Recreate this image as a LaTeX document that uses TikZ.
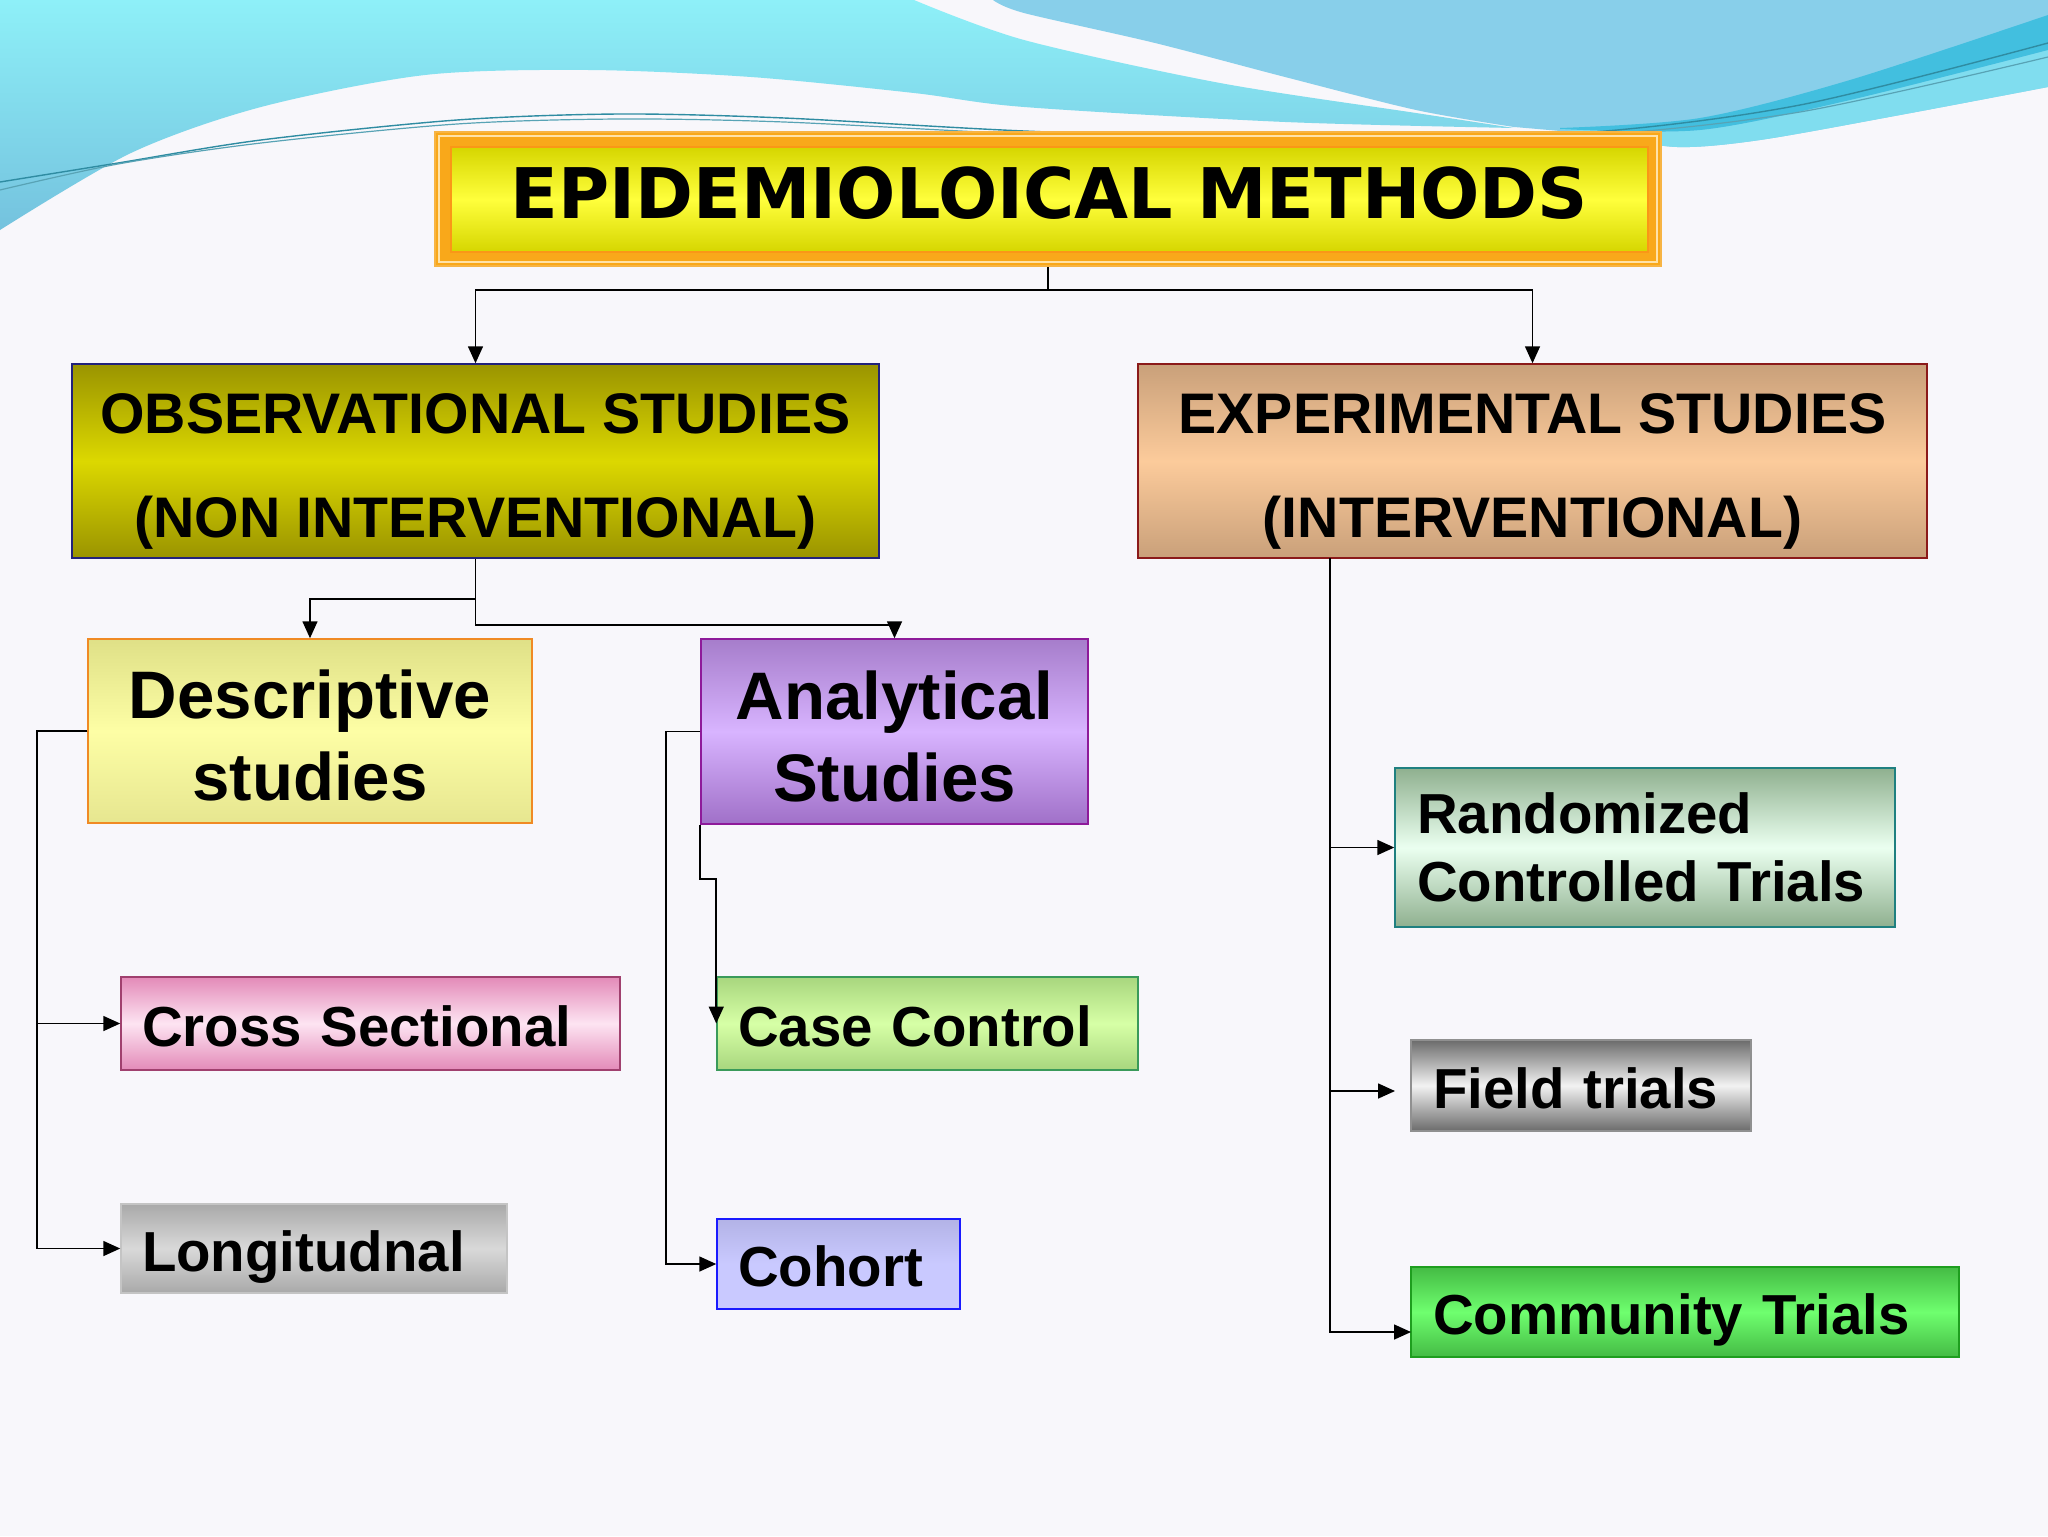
\documentclass[tikz,border=0pt]{standalone}
\usepackage{fontspec}
\setmainfont{Liberation Sans}
\newfontfamily\titlefont{DejaVu Sans}
\usetikzlibrary{arrows.meta,calc}
\definecolor{bgc}{HTML}{F8F7FB}
\definecolor{cyanA}{HTML}{8EF0F8}
\definecolor{cyanB}{HTML}{74C2DE}
\definecolor{blueR}{HTML}{88CFEA}
\definecolor{tealD}{HTML}{42BFDF}
\definecolor{cyanL}{HTML}{80DDEF}
\definecolor{streak}{HTML}{2F8CA2}
\definecolor{ttlO}{HTML}{F9A81A}
\definecolor{ttlB}{HTML}{F7B444}
\definecolor{ttlL}{HTML}{FFE2A8}
\definecolor{yelD}{HTML}{D6D600}
\definecolor{yelL}{HTML}{FFFF3C}
\definecolor{obsB}{HTML}{22227A}\definecolor{obsD}{HTML}{9A9400}\definecolor{obsL}{HTML}{DCD800}
\definecolor{expB}{HTML}{8B1A1A}\definecolor{expD}{HTML}{C9A07A}\definecolor{expL}{HTML}{FCCB9B}
\definecolor{desB}{HTML}{F08A24}\definecolor{desT}{HTML}{DFE087}\definecolor{desL}{HTML}{FDFEA5}\definecolor{desD}{HTML}{E6E690}
\definecolor{anaB}{HTML}{8E1A9A}\definecolor{anaT}{HTML}{A67DCB}\definecolor{anaL}{HTML}{D8B4FF}\definecolor{anaD}{HTML}{A070C8}
\definecolor{crsB}{HTML}{A0406E}\definecolor{crsD}{HTML}{E38AB8}\definecolor{crsL}{HTML}{FDE4F2}
\definecolor{lonB}{HTML}{C4C4C4}\definecolor{lonD}{HTML}{A9A9A9}\definecolor{lonL}{HTML}{D9D9D9}
\definecolor{ccB}{HTML}{3A9A5A}\definecolor{ccD}{HTML}{A8D67E}\definecolor{ccL}{HTML}{D6FFA6}
\definecolor{cohB}{HTML}{1A1AFF}\definecolor{cohT}{HTML}{B3B3E6}\definecolor{cohD}{HTML}{C9C9FF}
\definecolor{rctB}{HTML}{1F8080}\definecolor{rctD}{HTML}{8FB08F}\definecolor{rctL}{HTML}{EBFFF0}
\definecolor{fldB}{HTML}{909090}\definecolor{fldD}{HTML}{6B6B6B}\definecolor{fldL}{HTML}{F2F2F2}
\definecolor{comB}{HTML}{1E9E1E}\definecolor{comD}{HTML}{44BB44}\definecolor{comL}{HTML}{6FFF6F}
\begin{document}
\begin{tikzpicture}[x=0.5pt,y=-0.5pt,
  conn/.style={draw=black, line width=0.8pt},
  arr/.style={conn, -{Triangle[length=8.5pt,width=7.5pt]}},
  box/.style={draw, line width=0.75pt, inner sep=0pt, text=black, font=\bfseries\fontsize{28.2}{34}\selectfont},
  bigtxt/.style={align=center, font=\bfseries\fontsize{28.6}{52}\selectfont},
  midtxt/.style={align=center, font=\bfseries\fontsize{33.6}{41}\selectfont},
  lefttxt/.style={align=left, inner xsep=10.5pt, text height=22.5pt, text depth=0pt},
  grad/.style n args={3}{top color=#1, bottom color=#3, middle color=#2}]
\useasboundingbox (0,0) rectangle (2048,1536);
\fill[bgc] (0,0) rectangle (2048,1536);
% background waves
\shade[top color=cyanA, bottom color=cyanB] (0,0) -- (914,0) -- plot[smooth] coordinates {(914,0) (1024,40) (1220,83) (1416,113) (1514,128)} -- plot[smooth] coordinates {(1514,128) (1285,122) (1024,107) (914,93) (751,77) (588,70) (425,75) (261,107) (131,153) (0,230)} -- cycle;
\fill[blueR] (993,0) -- (2048,0) -- (2048,87) -- plot[smooth] coordinates {(2048,87) (1900,115) (1760,140) (1677,147) (1600,135) (1514,127)} -- plot[smooth] coordinates {(1514,127) (1416,110) (1285,77) (1155,43) (1024,13) (993,0)} -- cycle;
\fill[cyanL] plot[smooth] coordinates {(1560,129) (1700,130) (1850,100) (2048,50)} -- (2048,87) -- plot[smooth] coordinates {(2048,87) (1900,115) (1760,140) (1677,147) (1600,135) (1560,129)} -- cycle;
\fill[tealD] plot[smooth] coordinates {(1560,128) (1700,118) (1850,80) (2048,15)} -- (2048,50) -- plot[smooth] coordinates {(2048,50) (1850,100) (1700,130) (1560,129)} -- cycle;
\draw[streak, line width=0.7pt] plot[smooth] coordinates {(0,182) (118,163) (261,140) (457,120) (620,114) (784,118) (1024,131) (1300,140) (1580,133) (1800,105) (2048,43)};
\draw[streak!80!white, line width=0.6pt] plot[smooth] coordinates {(0,190) (118,164) (261,143) (457,124) (620,119) (784,122) (1024,134) (1300,143) (1580,136) (1800,112) (2048,57)};
% title
\node[draw=ttlB, line width=1.2pt, fill=ttlO, minimum width=613pt, minimum height=67pt, inner sep=0pt] (title) at (1048,199) {};
\draw[ttlL, line width=0.8pt] ($(title.north west)+(5,5)$) rectangle ($(title.south east)+(-5,-5)$);
\node[draw=ttlO!90!red, line width=0.8pt, grad={yelD}{yelL}{yelD}, minimum width=598.5pt, minimum height=52.5pt, inner sep=0pt, font=\titlefont\bfseries\fontsize{34.9}{40}\selectfont, text height=25.4pt, text depth=6.5pt] (titletext) at (1049.5,199.5) {EPIDEMIOLOICAL METHODS};
% level 1
\node[box, draw=obsB, grad={obsD}{obsL}{obsD}, minimum width=403.5pt, minimum height=97pt, bigtxt] (obs) at (475.5,461) {\rule{0pt}{30pt}OBSERVATIONAL STUDIES\\(NON INTERVENTIONAL)};
\node[box, draw=expB, grad={expD}{expL}{expD}, minimum width=394.5pt, minimum height=97pt, bigtxt] (exp) at (1532.5,461) {\rule{0pt}{30pt}EXPERIMENTAL STUDIES\\(INTERVENTIONAL)};
% level 2
\node[box, draw=desB, grad={desT}{desL}{desD}, minimum width=222pt, minimum height=92pt, midtxt] (desc) at (310,731) {\rule{0pt}{29pt}Descriptive\\studies};
\node[box, draw=anaB, grad={anaT}{anaL}{anaD}, minimum width=193.5pt, minimum height=92.5pt, midtxt] (ana) at (894.5,731.5) {\rule{0pt}{29pt}Analytical\\Studies};
% leaves
\node[box, draw=crsB, grad={crsD}{crsL}{crsD}, minimum width=249.5pt, minimum height=46.5pt, text width=228.5pt, lefttxt] (cross) at (370.5,1023.5) {Cross Sectional};
\node[box, draw=lonB, grad={lonD}{lonL}{lonD}, minimum width=193pt, minimum height=44.5pt, text width=172pt, lefttxt] (long) at (314,1248.5) {Longitudnal};
\node[box, draw=ccB, grad={ccD}{ccL}{ccD}, minimum width=210.5pt, minimum height=46.5pt, text width=189.5pt, lefttxt] (cc) at (927.5,1023.5) {Case Control};
\node[box, draw=cohB, grad={cohT}{cohD}{cohD}, minimum width=121.5pt, minimum height=45pt, text width=100.5pt, lefttxt] (cohort) at (838.5,1264) {Cohort};
\node[box, draw=rctB, grad={rctD}{rctL}{rctD}, minimum width=250pt, minimum height=79.5pt, text width=228pt, align=left, inner xsep=11pt] (rct) at (1645,847.5) {Randomized\\Controlled Trials};
\node[box, draw=fldB, grad={fldD}{fldL}{fldD}, minimum width=170pt, minimum height=45.5pt, text width=148pt, lefttxt, inner xsep=11pt] (field) at (1581,1085.5) {Field trials};
\node[box, draw=comB, grad={comD}{comL}{comD}, minimum width=274pt, minimum height=45pt, text width=252pt, lefttxt, inner xsep=11pt] (comm) at (1685,1312) {Community Trials};
% connectors
\draw[arr] (title.south) -- ++(0,23) -| (obs.north);
\draw[arr] (title.south) -- ++(0,23) -| (exp.north);
\draw[arr] (obs.south) -- ++(0,40) -| (desc.north);
\draw[arr] (obs.south) -- ++(0,66) -| (ana.north);
\coordinate (dl) at (37,731);
\draw[arr] (desc.west) -- (dl) |- (cross.west);
\draw[arr] (desc.west) -- (dl) |- (long.west);
\coordinate (al) at (666,731.5);
\draw[arr] (ana.west) -- (al) |- (cohort.west);
\draw[arr] (ana.south west) -- ++(0,54) -- ++(16,0) -- (cc.west);
\coordinate (et) at (1330,558);
\coordinate (fa) at (1395,1091);
\coordinate (ca) at (1411,1332);
\draw[arr] (et) |- (rct.west);
\draw[arr] (et) |- (fa);
\draw[arr] (et) |- (ca);
\end{tikzpicture}
\end{document}
